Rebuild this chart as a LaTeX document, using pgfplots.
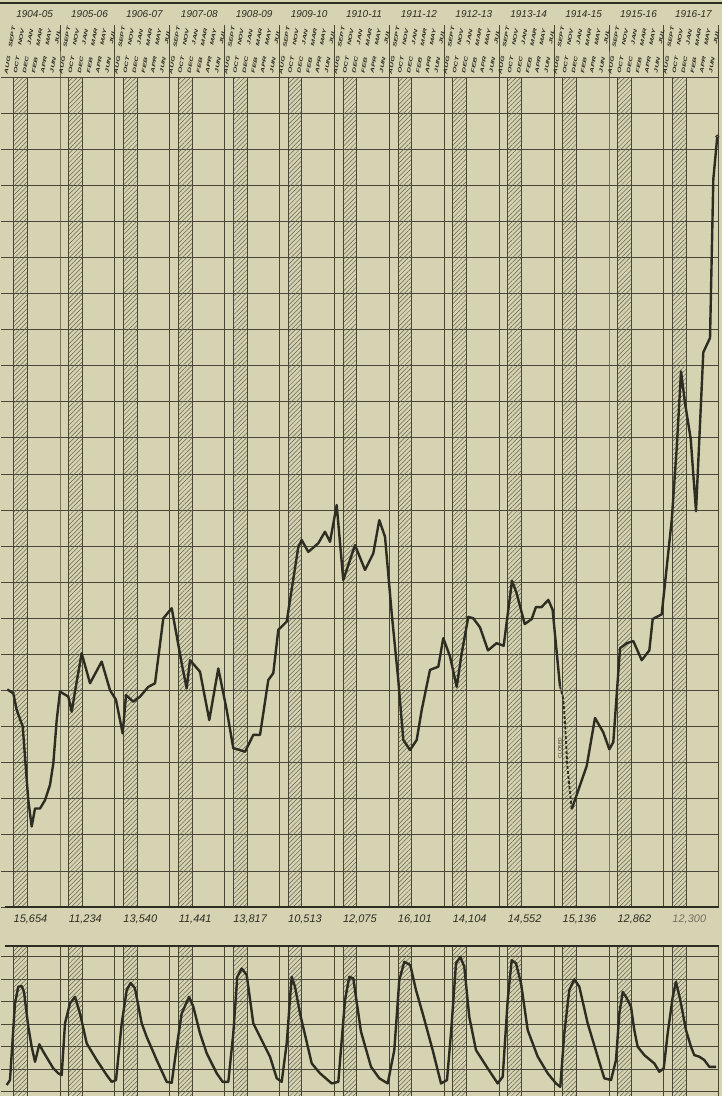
\documentclass[border=0pt]{standalone}
\usepackage{fontspec}
\setmainfont{Liberation Sans}
\usepackage{pgfplots}
\pgfplotsset{compat=1.18}
\usetikzlibrary{patterns.meta}
\definecolor{paper}{RGB}{214,211,178}
\definecolor{ink}{RGB}{45,45,34}
\definecolor{gridc}{RGB}{72,71,55}
\definecolor{hatchc}{RGB}{98,97,78}

\begin{document}
\begin{tikzpicture}
\fill[paper] (0pt,0pt) rectangle (722pt,-1096pt);
\draw[ink, line width=2pt] (0pt,-3pt) -- (722pt,-3pt);

% ---------------- upper chart ----------------
\begin{axis}[
  at={(5.1pt,-77pt)}, anchor=north west,
  width=713.7pt, height=830pt, scale only axis,
  xmin=0, xmax=156, ymin=0, ymax=23,
  axis line style={draw=none},
  xtick=\empty, ytick={0,...,23}, yticklabels={},
  ytick pos=left, tick align=outside, major tick length=4pt,
  tick style={gridc, line width=0.8pt},
  ymajorgrids, grid style={gridc, line width=0.8pt},
  clip=false,
]
\pgfplotsinvokeforeach{0,...,12}{
  \fill[pattern={Lines[angle=45,distance=3.2pt,line width=0.5pt]}, pattern color=hatchc]
    (axis cs:{#1*12+1.85},0) rectangle (axis cs:{#1*12+4.85},23);
  \draw[gridc, line width=0.6pt] (axis cs:{#1*12+1.85},0) -- (axis cs:{#1*12+1.85},23)
    (axis cs:{#1*12+4.85},0) -- (axis cs:{#1*12+4.85},23);
}
\pgfplotsinvokeforeach{1,...,13}{
  \draw[gridc, line width=1pt] (axis cs:{#1*12},0) -- (axis cs:{#1*12},23) -- ++(0pt,52pt);
}
\draw[gridc, line width=0.8pt] (axis cs:0,23) -- (axis cs:156,23);
\draw[ink, line width=1.5pt] (axis cs:0,0) -- (axis cs:156,0);

\addplot[ink, line width=2.4pt, line join=round] coordinates {
(0.48,6.03) (1.79,5.92) (2.54,5.46) (3.85,5.00) (4.35,4.16) (5.07,2.96) (5.81,2.23)
(6.54,2.73) (7.63,2.73) (8.72,2.96) (9.81,3.38) (10.54,3.98) (11.28,5.18) (12.00,5.97)
(13.81,5.83) (14.56,5.41) (15.28,5.97) (16.74,7.03) (18.56,6.20) (21.11,6.80) (22.93,6.01)
(24.24,5.74) (25.70,4.81) (26.43,5.87) (28.02,5.69) (29.49,5.83) (31.30,6.10) (32.77,6.20)
(34.58,8.00) (36.42,8.28) (37.14,7.77) (38.60,6.75) (39.69,6.06) (40.42,6.84) (42.60,6.52)
(44.63,5.18) (46.60,6.61) (48.44,5.46) (49.88,4.40) (51.34,4.35) (52.44,4.30) (54.25,4.77)
(55.72,4.77) (57.53,6.29) (58.62,6.48) (59.72,7.68) (61.55,7.91) (64.09,9.98) (64.83,10.17)
(66.27,9.84) (68.46,10.08) (69.92,10.40) (71.02,10.12) (72.48,11.14) (73.92,9.06) (76.48,10.03)
(78.67,9.34) (80.48,9.80) (81.79,10.72) (83.04,10.26) (84.50,8.14) (85.94,6.29) (87.04,4.63)
(88.50,4.35) (89.97,4.63) (91.06,5.46) (92.87,6.57) (94.69,6.66) (95.78,7.45) (97.25,6.94)
(98.71,6.10) (99.80,7.03) (101.25,8.04) (102.34,8.00) (103.80,7.75) (105.55,7.11) (107.40,7.31)
(108.98,7.24) (110.80,9.04) (111.77,8.71) (113.58,7.84) (115.10,7.98) (116.02,8.31) (117.25,8.31)
(118.73,8.51) (119.67,8.24) (121.29,6.11)
};
\addplot[ink, line width=1.8pt, dash pattern=on 3pt off 2pt] coordinates {
(121.29,6.11) (122.00,5.77) (122.38,5.11) (122.89,3.91) (123.85,2.71)
};
\addplot[ink, line width=2.4pt, line join=round] coordinates {
(123.85,2.71) (124.94,3.11) (127.13,3.91) (128.94,5.24) (130.75,4.84) (132.07,4.37) (132.94,4.57)
(134.41,7.17) (135.87,7.31) (137.31,7.37) (139.15,6.84) (140.81,7.11) (141.55,7.98) (143.52,8.11)
(145.70,10.71) (146.80,12.71) (147.74,14.84) (148.61,13.97) (149.86,12.97) (151.02,10.97)
(152.61,15.37) (154.08,15.77) (154.80,20.17) (155.67,21.35)
};
\addplot[ink, line width=0.8pt, only marks, mark=o, mark size=1.6pt] coordinates {(155.67,21.35)};
\end{axis}

% ---------------- lower chart ----------------
\begin{axis}[
  at={(5.1pt,-946pt)}, anchor=north west,
  width=713.7pt, height=157pt, scale only axis,
  xmin=0, xmax=156, ymin=-0.5, ymax=6.48,
  axis line style={draw=none},
  xtick=\empty, ytick={0,...,6}, yticklabels={},
  ytick pos=left, tick align=outside, major tick length=4pt,
  tick style={gridc, line width=0.8pt},
  ymajorgrids, grid style={gridc, line width=0.8pt},
  clip=false,
]
\pgfplotsinvokeforeach{0,...,12}{
  \fill[pattern={Lines[angle=45,distance=3.2pt,line width=0.5pt]}, pattern color=hatchc]
    (axis cs:{#1*12+1.85},-0.5) rectangle (axis cs:{#1*12+4.85},6.48);
  \draw[gridc, line width=0.6pt] (axis cs:{#1*12+1.85},-0.5) -- (axis cs:{#1*12+1.85},6.48)
    (axis cs:{#1*12+4.85},-0.5) -- (axis cs:{#1*12+4.85},6.48);
}
\pgfplotsinvokeforeach{1,...,13}{
  \draw[gridc, line width=1pt] (axis cs:{#1*12},-0.5) -- (axis cs:{#1*12},6.48);
}
\draw[ink, line width=1.5pt] (axis cs:0,6.48) -- (axis cs:156,6.48);

\addplot[ink, line width=2.4pt, line join=round] coordinates {
(0.35,0.30) (1.07,0.52) (2.16,3.93) (2.89,4.67) (3.63,4.70) (4.13,4.44) (5.07,2.89) (5.81,2.00)
(6.54,1.33) (7.48,2.11) (8.35,1.78) (10.54,1.04) (11.63,0.82) (12.37,0.74) (13.09,3.04)
(14.19,3.93) (15.28,4.22) (16.37,3.48) (17.84,2.15) (20.02,1.41) (22.21,0.74) (23.30,0.44)
(24.24,0.52) (25.49,3.04) (26.58,4.52) (27.45,4.84) (28.39,4.60) (29.86,3.04) (30.95,2.44)
(33.14,1.41) (35.32,0.44) (36.42,0.40) (37.51,2.00) (38.60,3.48) (40.20,4.22) (41.14,3.78)
(42.60,2.60) (44.07,1.71) (46.25,0.82) (47.56,0.44) (48.79,0.44) (49.88,2.60) (50.75,5.11)
(51.72,5.48) (52.81,5.19) (54.25,3.04) (56.44,2.15) (57.90,1.56) (59.37,0.60) (60.46,0.44)
(61.55,2.15) (62.64,5.11) (63.37,4.67) (64.46,3.48) (67.02,1.26) (68.83,0.82) (71.39,0.37)
(72.83,0.44) (74.30,4.08) (75.23,5.11) (76.11,5.04) (77.79,2.67) (79.98,1.11) (81.79,0.60)
(83.63,0.37) (85.07,1.85) (86.16,4.96) (87.26,5.78) (88.57,5.63) (89.81,4.52) (91.28,3.48)
(93.46,1.85) (95.28,0.37) (96.59,0.52) (97.46,2.60) (98.56,5.71) (99.50,6.00) (100.37,5.56)
(101.46,3.33) (102.93,1.85) (105.49,1.04) (107.67,0.37) (108.77,0.67) (109.86,4.08) (110.73,5.85)
(111.67,5.71) (112.77,4.82) (114.23,2.74) (116.42,1.56) (118.60,0.82) (120.42,0.37) (121.35,0.22)
(122.23,2.60) (123.32,4.52) (124.42,5.00) (125.51,4.67) (127.34,3.04) (129.53,1.56) (130.97,0.60)
(132.44,0.52) (133.53,1.41) (134.26,3.48) (135.00,4.44) (135.72,4.22) (136.81,3.78) (137.53,2.74)
(138.27,2.00) (139.72,1.63) (141.90,1.26) (143.00,0.89) (143.96,1.04) (144.83,2.60) (145.93,4.22)
(146.64,4.89) (147.58,4.08) (148.83,2.74) (149.92,2.00) (150.64,1.63) (151.74,1.56) (152.83,1.41)
(153.92,1.11) (155.39,1.11)
};
\end{axis}

% ---------------- texts ----------------
\begin{scope}[every node/.style={ink, font=\fontsize{10}{12}\selectfont\itshape}]
\node at (34.6pt,-14pt) {1904-05};
\node at (89.5pt,-14pt) {1905-06};
\node at (144.4pt,-14pt) {1906-07};
\node at (199.3pt,-14pt) {1907-08};
\node at (254.2pt,-14pt) {1908-09};
\node at (309.1pt,-14pt) {1909-10};
\node at (364.0pt,-14pt) {1910-11};
\node at (418.9pt,-14pt) {1911-12};
\node at (473.8pt,-14pt) {1912-13};
\node at (528.7pt,-14pt) {1913-14};
\node at (583.6pt,-14pt) {1914-15};
\node at (638.5pt,-14pt) {1915-16};
\node at (693.4pt,-14pt) {1916-17};
\end{scope}

\begin{scope}[every node/.style={ink, font=\fontsize{11}{12}\selectfont\itshape}]
\node at (30.5pt,-919pt) {15,654};
\node at (85.4pt,-919pt) {11,234};
\node at (140.3pt,-919pt) {13,540};
\node at (195.2pt,-919pt) {11,441};
\node at (250.1pt,-919pt) {13,817};
\node at (305.0pt,-919pt) {10,513};
\node at (359.9pt,-919pt) {12,075};
\node at (414.8pt,-919pt) {16,101};
\node at (469.7pt,-919pt) {14,104};
\node at (524.6pt,-919pt) {14,552};
\node at (579.5pt,-919pt) {15,136};
\node at (634.4pt,-919pt) {12,862};
\node[text=gridc!70!paper] at (689.3pt,-919pt) {12,300};
\end{scope}

\foreach \s in {0,...,12}{
  \foreach \i/\lab in {0/AUG,1/SEPT,2/OCT,3/NOV,4/DEC,5/JAN,6/FEB,7/MAR,8/APR,9/MAY,10/JUN,11/JUL}{
    \pgfmathsetmacro\xx{5.1+(12*\s+\i+0.5)*4.575}
    \pgfmathsetmacro\yy{(mod(\i,2)==0) ? 65 : 37}
    \node[ink, rotate=80, xscale=1.6, inner sep=0pt,
          font=\fontsize{5}{6}\selectfont\itshape\bfseries] at (\xx pt,-\yy pt) {\lab};
  }
}

\node[ink, rotate=90, inner sep=0pt, font=\fontsize{5}{6}\selectfont] at (560pt,-748pt) {CLOSED};

\pgfresetboundingbox
\path[use as bounding box] (0pt,0pt) rectangle (722pt,-1096pt);
\end{tikzpicture}
\end{document}
